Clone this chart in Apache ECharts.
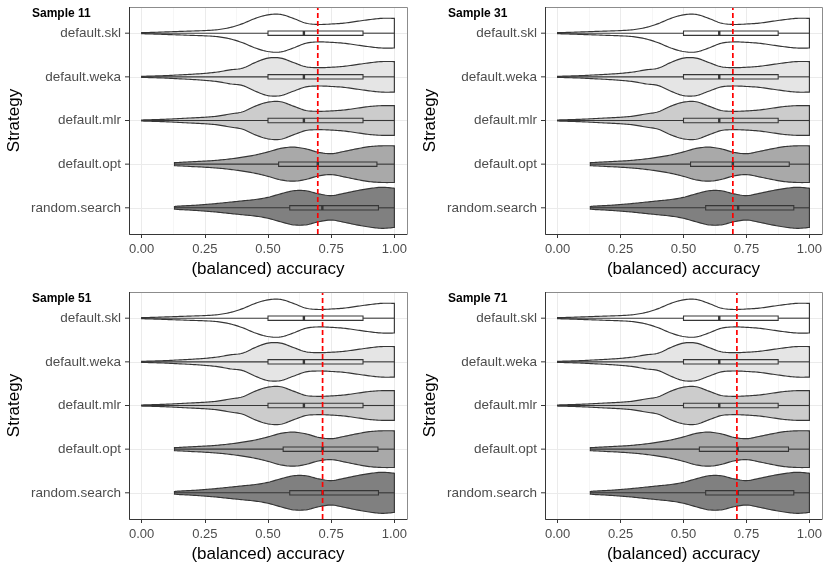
<!DOCTYPE html>
<html>
<head>
<meta charset="utf-8">
<script src="https://cdn.jsdelivr.net/npm/echarts@6/dist/echarts.min.js"></script>
<style>
  html, body { margin: 0; padding: 0; background: #fff; }
  #main { width: 830px; height: 570px; }
</style>
</head>
<body>
<div id="main"></div>
<script>
// facets and categories
var panels = ['Sample 11', 'Sample 31', 'Sample 51', 'Sample 71'];
var strategies = ['default.skl', 'default.weka', 'default.mlr', 'default.opt', 'random.search'];

// violin outlines: half width (in category spacing) read at each accuracy value
var gridFromZero = [0, 0.05, 0.10, 0.15, 0.20, 0.25, 0.30, 0.35, 0.40, 0.45, 0.50, 0.55, 0.60, 0.65, 0.70, 0.75, 0.80, 0.85, 0.90, 0.95, 1.00];
var gridFromLow = [0.13, 0.15, 0.20, 0.25, 0.30, 0.35, 0.40, 0.45, 0.50, 0.55, 0.60, 0.65, 0.70, 0.75, 0.80, 0.85, 0.90, 0.95, 1.00];
var densSkl  = [0.012, 0.02, 0.03, 0.04, 0.05, 0.06, 0.08, 0.13, 0.22, 0.34, 0.42, 0.43, 0.34, 0.23, 0.20, 0.21, 0.23, 0.27, 0.31, 0.34, 0.34];
var densWeka = [0.012, 0.02, 0.03, 0.045, 0.06, 0.08, 0.11, 0.16, 0.20, 0.33, 0.43, 0.43, 0.33, 0.23, 0.21, 0.22, 0.24, 0.28, 0.32, 0.35, 0.35];
var densMlr  = [0.012, 0.02, 0.03, 0.045, 0.06, 0.075, 0.10, 0.15, 0.20, 0.33, 0.42, 0.43, 0.33, 0.23, 0.21, 0.22, 0.24, 0.28, 0.32, 0.34, 0.34];
var densOpt  = [0.035, 0.04, 0.055, 0.07, 0.09, 0.12, 0.16, 0.21, 0.28, 0.36, 0.39, 0.35, 0.27, 0.24, 0.29, 0.35, 0.40, 0.42, 0.42];
var densRs   = [0.03, 0.04, 0.055, 0.075, 0.10, 0.13, 0.16, 0.19, 0.24, 0.32, 0.39, 0.39, 0.32, 0.28, 0.33, 0.39, 0.44, 0.47, 0.45];

// boxplot stats per panel: [min, q1, median, q3, max]
var boxSkl  = [[0, 0.50, 0.642, 0.876, 1], [0, 0.50, 0.642, 0.876, 1], [0, 0.50, 0.642, 0.876, 1], [0, 0.50, 0.642, 0.876, 1]];
var boxWeka = [[0, 0.50, 0.642, 0.876, 1], [0, 0.50, 0.642, 0.876, 1], [0, 0.50, 0.642, 0.876, 1], [0, 0.50, 0.642, 0.876, 1]];
var boxMlr  = [[0, 0.50, 0.642, 0.876, 1], [0, 0.50, 0.642, 0.876, 1], [0, 0.50, 0.642, 0.876, 1], [0, 0.50, 0.642, 0.876, 1]];
var boxOpt  = [[0.13, 0.542, 0.697, 0.931, 1], [0.13, 0.528, 0.696, 0.920, 1], [0.13, 0.560, 0.716, 0.935, 1], [0.13, 0.563, 0.715, 0.917, 1]];
var boxRs   = [[0.13, 0.586, 0.715, 0.937, 1], [0.13, 0.588, 0.717, 0.938, 1], [0.13, 0.586, 0.716, 0.937, 1], [0.13, 0.588, 0.715, 0.938, 1]];

// dashed reference line per panel
var refLine = [0.697, 0.696, 0.716, 0.712];

var violinGrid = [gridFromZero, gridFromZero, gridFromZero, gridFromLow, gridFromLow];
var violinDens = [densSkl, densWeka, densMlr, densOpt, densRs];
var boxes = [boxSkl, boxWeka, boxMlr, boxOpt, boxRs];
var fills = ['#ffffff', '#e5e5e5', '#cccccc', '#a9a9a9', '#808080'];

var FONT = 'Liberation Sans, Arial, sans-serif';
var INK = '#363636';

// panel frames (pixels)
var frames = [
    { left: 129, top: 7, width: 278, height: 227 },
    { left: 545, top: 7, width: 277, height: 227 },
    { left: 129, top: 292, width: 278, height: 227 },
    { left: 545, top: 292, width: 277, height: 227 }
];

// catmull-rom through the read points so the outline is smooth
function smoothLine(pts) {
    var out = [];
    var n = pts.length;
    for (var i = 0; i < n - 1; i++) {
        var p0 = pts[Math.max(i - 1, 0)], p1 = pts[i], p2 = pts[i + 1], p3 = pts[Math.min(i + 2, n - 1)];
        for (var s = 0; s < 8; s++) {
            var t = s / 8, t2 = t * t, t3 = t2 * t;
            var pt = [0, 1].map(function (k) {
                return 0.5 * ((2 * p1[k]) + (-p0[k] + p2[k]) * t +
                    (2 * p0[k] - 5 * p1[k] + 4 * p2[k] - p3[k]) * t2 +
                    (-p0[k] + 3 * p1[k] - 3 * p2[k] + p3[k]) * t3);
            });
            out.push(pt);
        }
    }
    out.push(pts[n - 1]);
    return out;
}

function violinItem(params, api) {
    var idx = api.value(0);
    var xs = violinGrid[idx], ws = violinDens[idx];
    var c0 = api.coord([0, idx]);
    var unit = Math.abs(api.coord([0, 1])[1] - api.coord([0, 0])[1]);
    var top = [], bot = [];
    for (var i = 0; i < xs.length; i++) {
        var p = api.coord([xs[i], idx]);
        top.push([p[0], c0[1] - ws[i] * unit]);
        bot.push([p[0], c0[1] + ws[i] * unit]);
    }
    var pts = smoothLine(top).concat(smoothLine(bot).reverse());

    var edge = api.coord([-0.05, idx]);
    var mn = api.coord([api.value(1), idx]);
    var q1 = api.coord([api.value(2), idx]);
    var md = api.coord([api.value(3), idx]);
    var q3 = api.coord([api.value(4), idx]);
    var mx = api.coord([api.value(5), idx]);
    var bh = 2.2;
    return {
        type: 'group',
        children: [
            // axis tick on the left edge of the panel
            { type: 'line', shape: { x1: edge[0] - 4, y1: edge[1], x2: edge[0], y2: edge[1] },
              style: { stroke: INK, lineWidth: 1 } },
            { type: 'polygon', shape: { points: pts },
              style: { fill: fills[idx], stroke: INK, lineWidth: 1.15 } },
            { type: 'line', shape: { x1: mn[0], y1: mn[1], x2: q1[0], y2: q1[1] },
              style: { stroke: INK, lineWidth: 1.1 } },
            { type: 'line', shape: { x1: q3[0], y1: q3[1], x2: mx[0], y2: mx[1] },
              style: { stroke: INK, lineWidth: 1.1 } },
            { type: 'rect', shape: { x: q1[0], y: q1[1] - bh, width: q3[0] - q1[0], height: bh * 2 },
              style: { fill: fills[idx], stroke: INK, lineWidth: 1.1 } },
            { type: 'line', shape: { x1: md[0], y1: md[1] - bh, x2: md[0], y2: md[1] + bh },
              style: { stroke: INK, lineWidth: 2.4 } }
        ]
    };
}

function refItem(params, api) {
    var a = api.coord([api.value(0), 0]);
    var b = api.coord([api.value(0), 1]);
    return { type: 'line', shape: { x1: a[0], y1: a[1], x2: b[0], y2: b[1] },
             style: { stroke: '#ff0000', lineWidth: 1.7, lineDash: [5, 3] } };
}

var grids = [], xAxes = [], yAxes = [], series = [], titles = [], graphics = [];

frames.forEach(function (f, p) {
    var unitY = f.height / 5.2;
    var unitX = f.width / 1.1;
    // grid A: violins over the category axis
    grids.push({ left: f.left, top: f.top + 0.6 * unitY, width: f.width, height: 4 * unitY });
    // grid B: accuracy ticks and vertical grid lines
    grids.push({ left: f.left + 0.05 * unitX, top: f.top, width: unitX, height: f.height });

    xAxes.push({ gridIndex: 2 * p, type: 'value', min: -0.05, max: 1.05, show: false });
    yAxes.push({
        gridIndex: 2 * p, type: 'category', data: strategies, inverse: true, boundaryGap: false,
        axisLine: { show: false },
        axisTick: { show: false },
        axisLabel: { color: '#4d4d4d', fontSize: 13.5, fontFamily: FONT, margin: 8 },
        splitLine: { show: true, lineStyle: { color: '#ebebeb', width: 1 } },
        name: 'Strategy', nameLocation: 'middle', nameGap: 106, nameRotate: 90,
        nameTextStyle: { color: '#000', fontSize: 17, fontFamily: FONT }
    });
    xAxes.push({
        gridIndex: 2 * p + 1, type: 'value', min: 0, max: 1, interval: 0.25,
        axisLine: { show: false },
        axisTick: { show: true, length: 4, lineStyle: { color: INK } },
        axisLabel: { color: '#4d4d4d', fontSize: 13, fontFamily: FONT, margin: 9,
                     formatter: function (v) { return v.toFixed(2); } },
        splitLine: { show: true, lineStyle: { color: '#ebebeb', width: 1 } },
        minorTick: { show: false, splitNumber: 2 },
        minorSplitLine: { show: true, lineStyle: { color: '#f4f4f4', width: 0.8 } },
        name: '(balanced) accuracy', nameLocation: 'middle', nameGap: 27,
        nameTextStyle: { color: '#000', fontSize: 17, fontFamily: FONT }
    });
    yAxes.push({ gridIndex: 2 * p + 1, type: 'value', min: 0, max: 1, show: false });

    series.push({
        type: 'custom', xAxisIndex: 2 * p, yAxisIndex: 2 * p,
        renderItem: violinItem, clip: false,
        encode: { x: [1, 2, 3, 4, 5], y: 0 },
        data: strategies.map(function (s, i) {
            var b = boxes[i][p];
            return [i, b[0], b[1], b[2], b[3], b[4]];
        }),
        z: 3, silent: true
    });
    series.push({
        type: 'custom', xAxisIndex: 2 * p + 1, yAxisIndex: 2 * p + 1,
        renderItem: refItem, encode: { x: 0 },
        data: [[refLine[p]]], z: 5, silent: true
    });

    titles.push({
        text: panels[p], left: f.left - 102, top: f.top - 4,
        textStyle: { fontSize: 12, fontWeight: 'bold', color: '#000', fontFamily: FONT }
    });

    graphics.push({
        type: 'rect', z: 100, silent: true,
        shape: { x: f.left + 0.5, y: f.top + 0.5, width: f.width, height: f.height },
        style: { fill: null, stroke: '#8c8c8c', lineWidth: 1 }
    });
    graphics.push({
        type: 'polyline', z: 101, silent: true,
        shape: { points: [[f.left + 0.5, f.top], [f.left + 0.5, f.top + f.height + 0.5], [f.left + f.width, f.top + f.height + 0.5]] },
        style: { fill: null, stroke: INK, lineWidth: 1 }
    });
});

var option = {
    backgroundColor: '#ffffff',
    animation: false,
    title: titles,
    grid: grids,
    xAxis: xAxes,
    yAxis: yAxes,
    series: series,
    graphic: graphics
};

var myChart = echarts.init(document.getElementById('main'));
myChart.setOption(option);
</script>
</body>
</html>
